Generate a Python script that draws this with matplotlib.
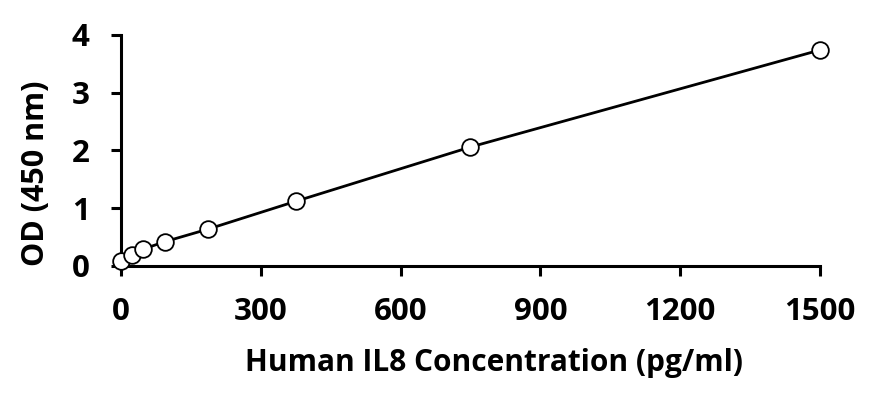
import matplotlib
matplotlib.use('Agg')
import matplotlib.pyplot as plt

# 标准曲线数据
conc = [0, 23.4, 46.9, 93.75, 187.5, 375, 750, 1500]
od = [0.09, 0.19, 0.29, 0.42, 0.64, 1.12, 2.06, 3.74]
x_ticks = [0, 300, 600, 900, 1200, 1500]
y_ticks = [0, 1, 2, 3, 4]

plt.rcParams['font.family'] = ['Open Sans', 'DejaVu Sans']
plt.rcParams['font.weight'] = 'bold'

fig = plt.figure(figsize=(8.74, 3.95), dpi=100)
ax = fig.add_axes([0.1384, 0.3266, 0.7998, 0.5848])

ax.plot(conc, od, color='black', linewidth=2.0, marker='o', markersize=12,
        markerfacecolor='white', markeredgecolor='black', markeredgewidth=1.3,
        clip_on=False, zorder=3)

ax.set_xlim(0, 1500)
ax.set_ylim(0, 4)
ax.set_xticks(x_ticks)
ax.set_yticks(y_ticks)
for side in ('top', 'right'):
    ax.spines[side].set_visible(False)
for side in ('left', 'bottom'):
    ax.spines[side].set_linewidth(2.2)
ax.tick_params(direction='out', length=7.5, width=2.2, labelsize=22.5)
ax.tick_params(axis='x', pad=15)
ax.tick_params(axis='y', pad=15)
for lab in ax.get_xticklabels() + ax.get_yticklabels():
    lab.set_fontweight('bold')

# 轴标题位置按原图微调 (偏离中心)
ax.set_xlabel('Human IL8 Concentration (pg/ml)', fontsize=21.5, fontweight='bold')
ax.xaxis.label.set_va('center')
ax.xaxis.set_label_coords(0.534, -0.42)
ax.set_ylabel('OD (450 nm)', fontsize=22, fontweight='bold')
ax.yaxis.label.set_va('center')
ax.yaxis.set_label_coords(-0.1216, 0.4026)

plt.savefig('out.png', dpi=100)
